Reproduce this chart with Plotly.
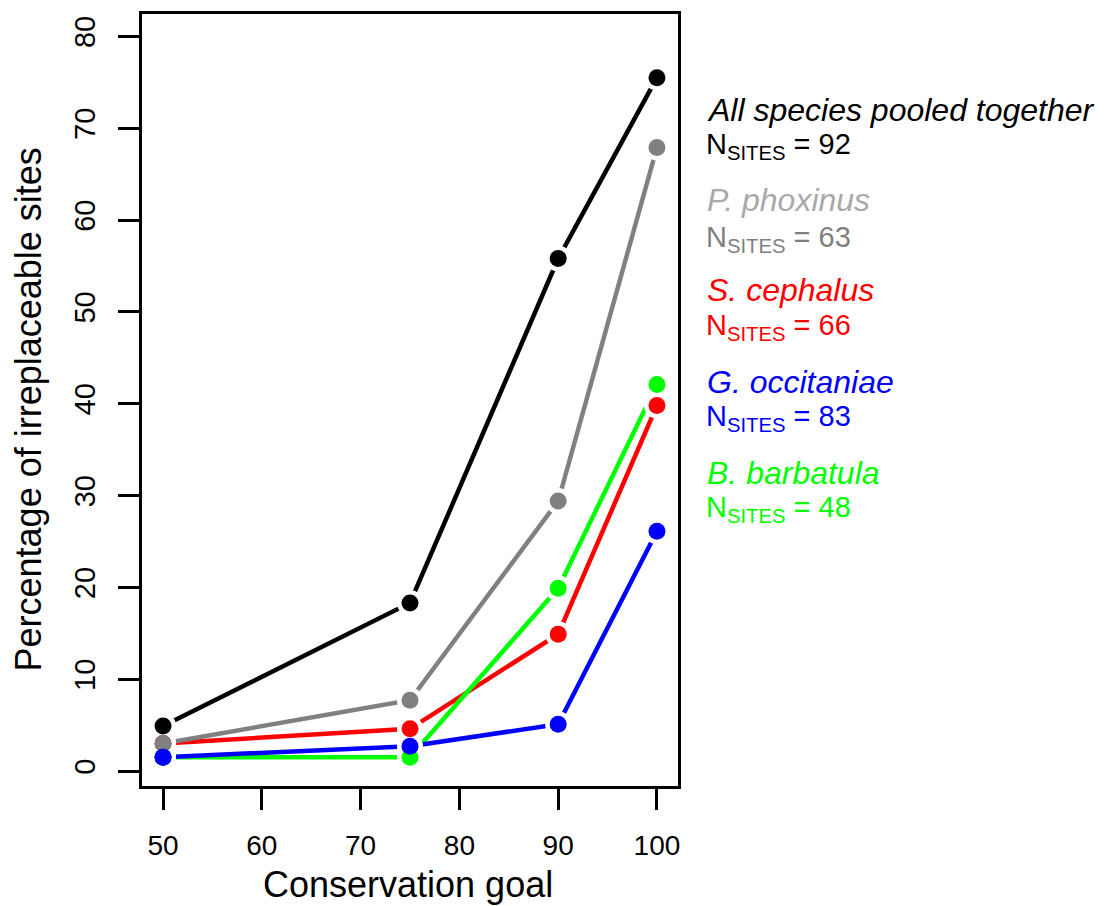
import plotly.graph_objects as go

goals = [50, 75, 90, 100]
series_names = ["All species pooled together", "P. phoxinus", "S. cephalus", "G. occitaniae", "B. barbatula"]
n_sites = [92, 63, 66, 83, 48]
all_species = [4.9, 18.3, 55.8, 75.5]
p_phoxinus = [3.0, 7.7, 29.4, 67.9]
s_cephalus = [3.0, 4.6, 14.9, 39.8]
g_occitaniae = [1.5, 2.7, 5.1, 26.1]
b_barbatula = [1.5, 1.5, 19.9, 42.1]
x_ticks = [50, 60, 70, 80, 90, 100]
y_ticks = [0, 10, 20, 30, 40, 50, 60, 70, 80]

values = [all_species, p_phoxinus, s_cephalus, g_occitaniae, b_barbatula]
line_colors = ["#000000", "#808080", "#FF0000", "#0000FF", "#00FF00"]
title_colors = ["#000000", "#A9A9A9", "#FF0000", "#0000FF", "#00FF00"]
n_colors = ["#000000", "#808080", "#FF0000", "#0000FF", "#00FF00"]
draw_order = [0, 2, 1, 4, 3]

FONT = "Liberation Sans, Arial, sans-serif"
fig = go.Figure()

# lines
for i in draw_order:
    fig.add_trace(go.Scatter(x=goals, y=values[i], mode="lines",
                             line=dict(color=line_colors[i], width=4.5),
                             showlegend=False, hoverinfo="skip"))
# white halos to emulate R type="b" gaps
for i in draw_order:
    fig.add_trace(go.Scatter(x=goals, y=values[i], mode="markers",
                             marker=dict(color="white", size=26, line=dict(width=0)),
                             showlegend=False, hoverinfo="skip"))
# points
for i in draw_order:
    fig.add_trace(go.Scatter(x=goals, y=values[i], mode="markers", name=series_names[i],
                             marker=dict(color=line_colors[i], size=17, line=dict(width=0)),
                             showlegend=False))
# blue point at 50 is drawn above the green one
fig.add_trace(go.Scatter(x=goals[:1], y=g_occitaniae[:1], mode="markers",
                         marker=dict(color=line_colors[3], size=17, line=dict(width=0)),
                         showlegend=False, hoverinfo="skip"))

L, R, T, B = 142, 678, 11, 786
W, H = 1110, 906
pw, ph = R - L, B - T

def px(xp):
    return (xp - L) / pw

def py(yp):
    return (B - yp) / ph

annotations = []
title_y = [107, 198, 288, 380, 472]
n_y = [144, 237, 325, 417, 508]
for i in range(5):
    annotations.append(dict(xref="paper", yref="paper", x=px(705), y=py(title_y[i]),
                            xanchor="left", yanchor="middle", showarrow=False,
                            text="<i>%s</i>" % series_names[i],
                            font=dict(family=FONT, size=32, color=title_colors[i])))
    annotations.append(dict(xref="paper", yref="paper", x=px(704), y=py(n_y[i]),
                            xanchor="left", yanchor="middle", showarrow=False,
                            text="N<sub>SITES</sub> = %d" % n_sites[i],
                            font=dict(family=FONT, size=29, color=n_colors[i])))

annotations.append(dict(xref="paper", yref="paper", x=px(408), y=py(885),
                        xanchor="center", yanchor="middle", showarrow=False,
                        text="Conservation goal",
                        font=dict(family=FONT, size=36, color="black")))
annotations.append(dict(xref="paper", yref="paper", x=px(28), y=py(408),
                        xanchor="center", yanchor="middle", showarrow=False,
                        textangle=-90, text="Percentage of irreplaceable sites",
                        font=dict(family=FONT, size=36, color="black")))

fig.update_layout(
    width=W, height=H,
    margin=dict(l=L, r=W - R, t=T, b=H - B),
    paper_bgcolor="white", plot_bgcolor="white",
    font=dict(family=FONT, color="black"),
    annotations=annotations,
    xaxis=dict(range=[47.87, 102.13], tickmode="array", tickvals=x_ticks,
               ticktext=[str(v) for v in x_ticks],
               showgrid=False, zeroline=False, showline=True, mirror=True,
               linecolor="black", linewidth=2.5, ticks="outside", ticklen=21,
               tickwidth=2.5, tickcolor="black", tickfont=dict(family=FONT, size=28),
               ticklabelstandoff=12),
    yaxis=dict(range=[-1.63, 82.43], tickmode="array", tickvals=y_ticks,
               ticktext=[str(v) for v in y_ticks],
               showgrid=False, zeroline=False, showline=True, mirror=True,
               linecolor="black", linewidth=2.5, ticks="outside", ticklen=21,
               tickwidth=2.5, tickcolor="black", tickangle=-90,
               tickfont=dict(family=FONT, size=29), ticklabelstandoff=12),
)

fig.write_html("out.html", config={"displayModeBar": False},
               post_script="document.body.style.margin='0px';document.body.style.overflow='hidden';")
